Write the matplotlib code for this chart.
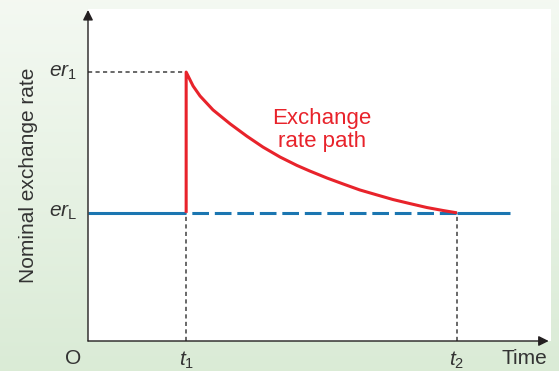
import numpy as np
import matplotlib
matplotlib.use('Agg')
import matplotlib.pyplot as plt

plt.rcParams['font.family'] = ['Liberation Sans', 'DejaVu Sans']
plt.rcParams['mathtext.fontset'] = 'custom'
plt.rcParams['mathtext.rm'] = 'Liberation Sans'
plt.rcParams['mathtext.it'] = 'Liberation Sans:italic'
plt.rcParams['lines.scale_dashes'] = False

# Key levels and times (axis units 0..10)
t1, t2, t_end = 2.12, 7.97, 9.11
er1, erL = 8.10, 3.86

# Exchange rate path (after the jump at t1)
path_t = [2.12, 2.27, 2.42, 2.70, 3.07, 3.43, 3.78, 4.15, 4.51, 4.79,
          5.16, 5.51, 5.87, 6.24, 6.59, 6.95, 7.32, 7.67, 7.97]
path_er = [8.10, 7.68, 7.38, 6.96, 6.54, 6.17, 5.84, 5.54, 5.29, 5.12,
           4.91, 4.73, 4.55, 4.40, 4.26, 4.14, 4.02, 3.93, 3.86]

red = '#e8232b'
blue = '#1b76b1'
grey = '#404040'
ink = '#231f20'

fig = plt.figure(figsize=(5.59, 3.71), dpi=100)

# green gradient background
bg = fig.add_axes([0, 0, 1, 1], zorder=-1)
top = np.array([0.957, 0.976, 0.949])
bot = np.array([0.855, 0.922, 0.839])
ramp = np.linspace(0, 1, 200)[:, None, None]
grad = top + (bot - top) * ramp
grad = np.repeat(grad, 10, axis=1)
bg.imshow(grad, aspect='auto', extent=[0, 1, 0, 1])
bg.set_axis_off()

W, H = 559, 371
ax = fig.add_axes([88 / W, 30 / H, 463 / W, 332 / H])
ax.set_facecolor('white')
ax.set_xlim(0, 10)
ax.set_ylim(0, 10)
for s in ax.spines.values():
    s.set_visible(False)
ax.set_xticks([])
ax.set_yticks([])

# axes with arrows
arrow = dict(arrowstyle='-|>', color=ink, lw=1.0, mutation_scale=15,
             shrinkA=0, shrinkB=0)
ax.annotate('', xy=(0, 9.97), xytext=(0, 0), arrowprops=arrow,
            annotation_clip=False)
ax.annotate('', xy=(9.95, 0), xytext=(0, 0), arrowprops=arrow,
            annotation_clip=False)

# guide lines
guide = (0, (3, 2.4))
ax.plot([0, t1], [er1, er1], color=grey, lw=1.1, linestyle=guide)
ax.plot([t1, t1], [0, erL], color=grey, lw=1.1, linestyle=guide)
ax.plot([t2, t2], [0, erL], color=grey, lw=1.1, linestyle=guide)

# long-run rate
ax.plot([0, t1], [erL, erL], color=blue, lw=2.2, solid_capstyle='butt')
ax.plot([t1, t2], [erL, erL], color=blue, lw=2.2, linestyle=(12, (12, 4.2)),
        dash_capstyle='butt')
ax.plot([t2, t_end], [erL, erL], color=blue, lw=2.2, solid_capstyle='butt')

# exchange rate path
ax.plot([t1] + path_t, [erL] + path_er, color=red, lw=2.2,
        solid_joinstyle='round', solid_capstyle='butt')

ax.text(5.05, 6.36, 'Exchange\nrate path', color=red, fontsize=16,
        ha='center', va='center', linespacing=1.1)

# labels
lab = dict(fontsize=15, color='#333333')
ax.annotate(r'$er_{\mathrm{1}}$', xy=(0, er1), xytext=(-8, 0),
            textcoords='offset points', ha='right', va='center',
            annotation_clip=False, **lab)
ax.annotate(r'$er_{\mathrm{L}}$', xy=(0, erL), xytext=(-8, 0),
            textcoords='offset points', ha='right', va='center',
            annotation_clip=False, **lab)
ax.annotate(r'$t_{\mathrm{1}}$', xy=(t1, 0), xytext=(0, -6),
            textcoords='offset points', ha='center', va='top',
            annotation_clip=False, **lab)
ax.annotate(r'$t_{\mathrm{2}}$', xy=(t2, 0), xytext=(0, -6),
            textcoords='offset points', ha='center', va='top',
            annotation_clip=False, **lab)
ax.annotate('O', xy=(0, 0), xytext=(-11, -6), textcoords='offset points',
            ha='center', va='top', annotation_clip=False, **lab)
ax.annotate('Time', xy=(9.43, 0), xytext=(0, -6), textcoords='offset points',
            ha='center', va='top', annotation_clip=False, **lab)

ax.set_ylabel('Nominal exchange rate', fontsize=15, color='#333333')
ax.yaxis.set_label_coords(-50 / 463, 0.5)

fig.savefig('out.png', dpi=100)
